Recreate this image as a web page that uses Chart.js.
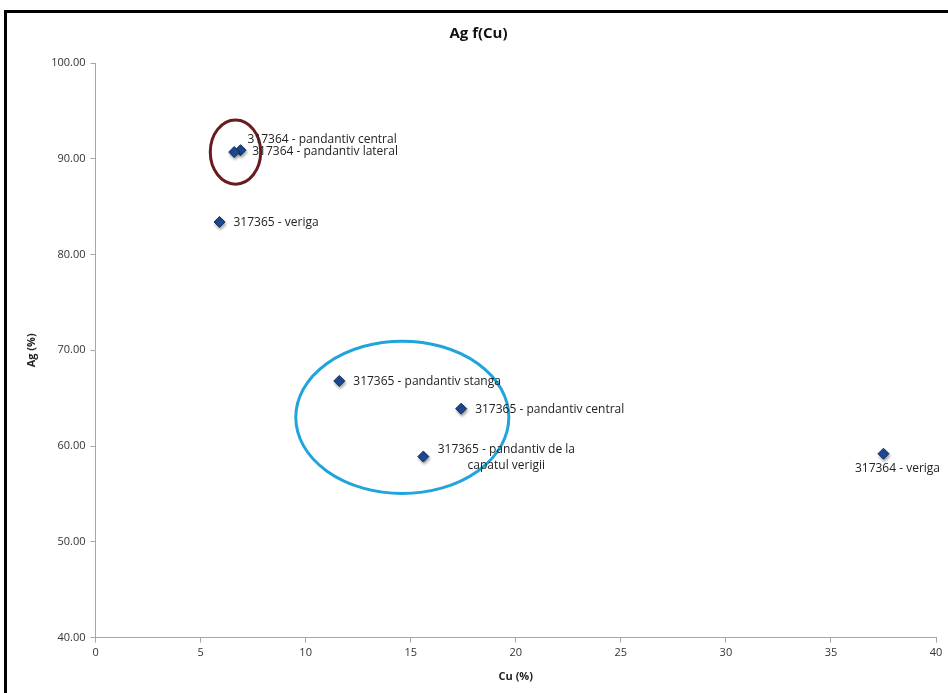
<!DOCTYPE html>
<html>
<head>
<meta charset="utf-8">
<script src="https://cdn.jsdelivr.net/npm/chart.js@4.4.1/dist/chart.umd.min.js"></script>
<style>
    html, body { margin: 0; padding: 0; background: #fff; }
    #wrap { position: relative; width: 948px; height: 693px; }
    #frame { position: absolute; left: 4px; top: 10px; right: -10px; bottom: -10px;
             border-top: 3px solid #000; border-left: 3px solid #000; pointer-events: none; }
    canvas { position: absolute; left: 0; top: 0; }
</style>
</head>
<body>
<div id="wrap">
    <canvas id="chart" width="948" height="693"></canvas>
    <div id="frame"></div>
</div>
<script>
// Samples: Cu (%) vs Ag (%)
const sampleLabels = [
    ['317364 - pandantiv central'],
    ['317364 - pandantiv lateral'],
    ['317365 - veriga'],
    ['317365 - pandantiv stanga'],
    ['317365 - pandantiv central'],
    ['317365 - pandantiv de la', 'capatul verigii'],
    ['317364 - veriga']
];
const cuValues = [6.9, 6.6, 5.9, 11.6, 17.4, 15.6, 37.5];
const agValues = [90.9, 90.7, 83.4, 66.8, 63.9, 58.9, 59.2];

const xTicks = [0, 5, 10, 15, 20, 25, 30, 35, 40];
const yTicks = [40, 50, 60, 70, 80, 90, 100];

// highlight ellipses in data units: centre x, centre y, half-width, half-height
const ellipseCx = [6.66, 14.6];
const ellipseCy = [90.7, 63.0];
const ellipseRx = [1.2, 5.07];
const ellipseRy = [3.35, 7.95];
const ellipseColors = ['#6a1b1f', '#20a4dc'];

// label placement (pixels from point) and alignment
const labelOffsets = [[7, -11], [18, 0], [14, 1], [14, 1], [14, 1], [83, -7], [14, 15]];
const labelAlign = ['left', 'left', 'left', 'left', 'left', 'center', 'center'];

const points = cuValues.map((x, i) => ({ x: x, y: agValues[i] }));

const fontFamily = "'Open Sans', 'Noto Sans', sans-serif";

const shadowPlugin = {
    id: 'markerShadow',
    beforeDatasetsDraw(chart) {
        const ctx = chart.ctx;
        ctx.save();
        ctx.shadowColor = 'rgba(0,0,0,0.35)';
        ctx.shadowBlur = 3;
        ctx.shadowOffsetX = 1;
        ctx.shadowOffsetY = 2;
    },
    afterDatasetsDraw(chart) {
        chart.ctx.restore();
    }
};

const ellipsePlugin = {
    id: 'ellipses',
    afterDatasetsDraw(chart) {
        const { ctx, scales } = chart;
        ctx.save();
        ellipseCx.forEach((cx, i) => {
            const px = scales.x.getPixelForValue(cx);
            const py = scales.y.getPixelForValue(ellipseCy[i]);
            const rx = Math.abs(scales.x.getPixelForValue(cx + ellipseRx[i]) - px);
            const ry = Math.abs(scales.y.getPixelForValue(ellipseCy[i] + ellipseRy[i]) - py);
            ctx.beginPath();
            ctx.ellipse(px, py, rx, ry, 0, 0, Math.PI * 2);
            ctx.strokeStyle = ellipseColors[i];
            ctx.lineWidth = 3;
            ctx.stroke();
        });
        ctx.restore();
    }
};

const labelPlugin = {
    id: 'pointLabels',
    afterDatasetsDraw(chart) {
        const { ctx } = chart;
        const meta = chart.getDatasetMeta(0);
        ctx.save();
        ctx.font = '12px ' + fontFamily;
        ctx.fillStyle = '#222';
        ctx.textBaseline = 'middle';
        meta.data.forEach((pt, i) => {
            const lines = sampleLabels[i];
            ctx.textAlign = labelAlign[i];
            lines.forEach((line, j) => {
                ctx.fillText(line, pt.x + labelOffsets[i][0], pt.y + labelOffsets[i][1] + j * 16);
            });
        });
        ctx.restore();
    }
};

new Chart(document.getElementById('chart'), {
    type: 'scatter',
    data: {
        datasets: [{
            label: 'Ag f(Cu)',
            data: points,
            pointStyle: 'rectRot',
            pointRadius: 5.5,
            pointHoverRadius: 5.5,
            backgroundColor: '#1f4a94',
            borderColor: '#14305e',
            borderWidth: 1
        }]
    },
    options: {
        responsive: false,
        animation: false,
        layout: { padding: { left: 21, right: 12, top: 10, bottom: 6 } },
        plugins: {
            legend: { display: false },
            tooltip: { enabled: false },
            title: {
                display: true,
                text: 'Ag f(Cu)',
                color: '#111',
                font: { family: fontFamily, size: 15, weight: 'bold' },
                padding: { top: 15, bottom: 20 }
            }
        },
        scales: {
            x: {
                type: 'linear',
                min: 0, max: 40,
                afterBuildTicks: axis => { axis.ticks = xTicks.map(v => ({ value: v })); },
                ticks: { color: '#333', font: { family: fontFamily, size: 11 }, padding: 4 },
                grid: { drawOnChartArea: false, drawTicks: true, tickLength: 5, color: '#a6a6a6' },
                border: { color: '#a6a6a6', width: 1 },
                title: { display: true, text: 'Cu (%)', color: '#222',
                         font: { family: fontFamily, size: 11, weight: 'bold' }, padding: { top: 6 } }
            },
            y: {
                type: 'linear',
                min: 40, max: 100,
                afterBuildTicks: axis => { axis.ticks = yTicks.map(v => ({ value: v })); },
                ticks: { color: '#333', font: { family: fontFamily, size: 11 }, padding: 5,
                         callback: v => v.toFixed(2) },
                grid: { drawOnChartArea: false, drawTicks: true, tickLength: 5, color: '#a6a6a6' },
                border: { color: '#a6a6a6', width: 1 },
                title: { display: true, text: 'Ag (%)', color: '#222',
                         font: { family: fontFamily, size: 11, weight: 'bold' }, padding: { bottom: 8 } }
            }
        }
    },
    plugins: [shadowPlugin, ellipsePlugin, labelPlugin]
});
</script>
</body>
</html>
